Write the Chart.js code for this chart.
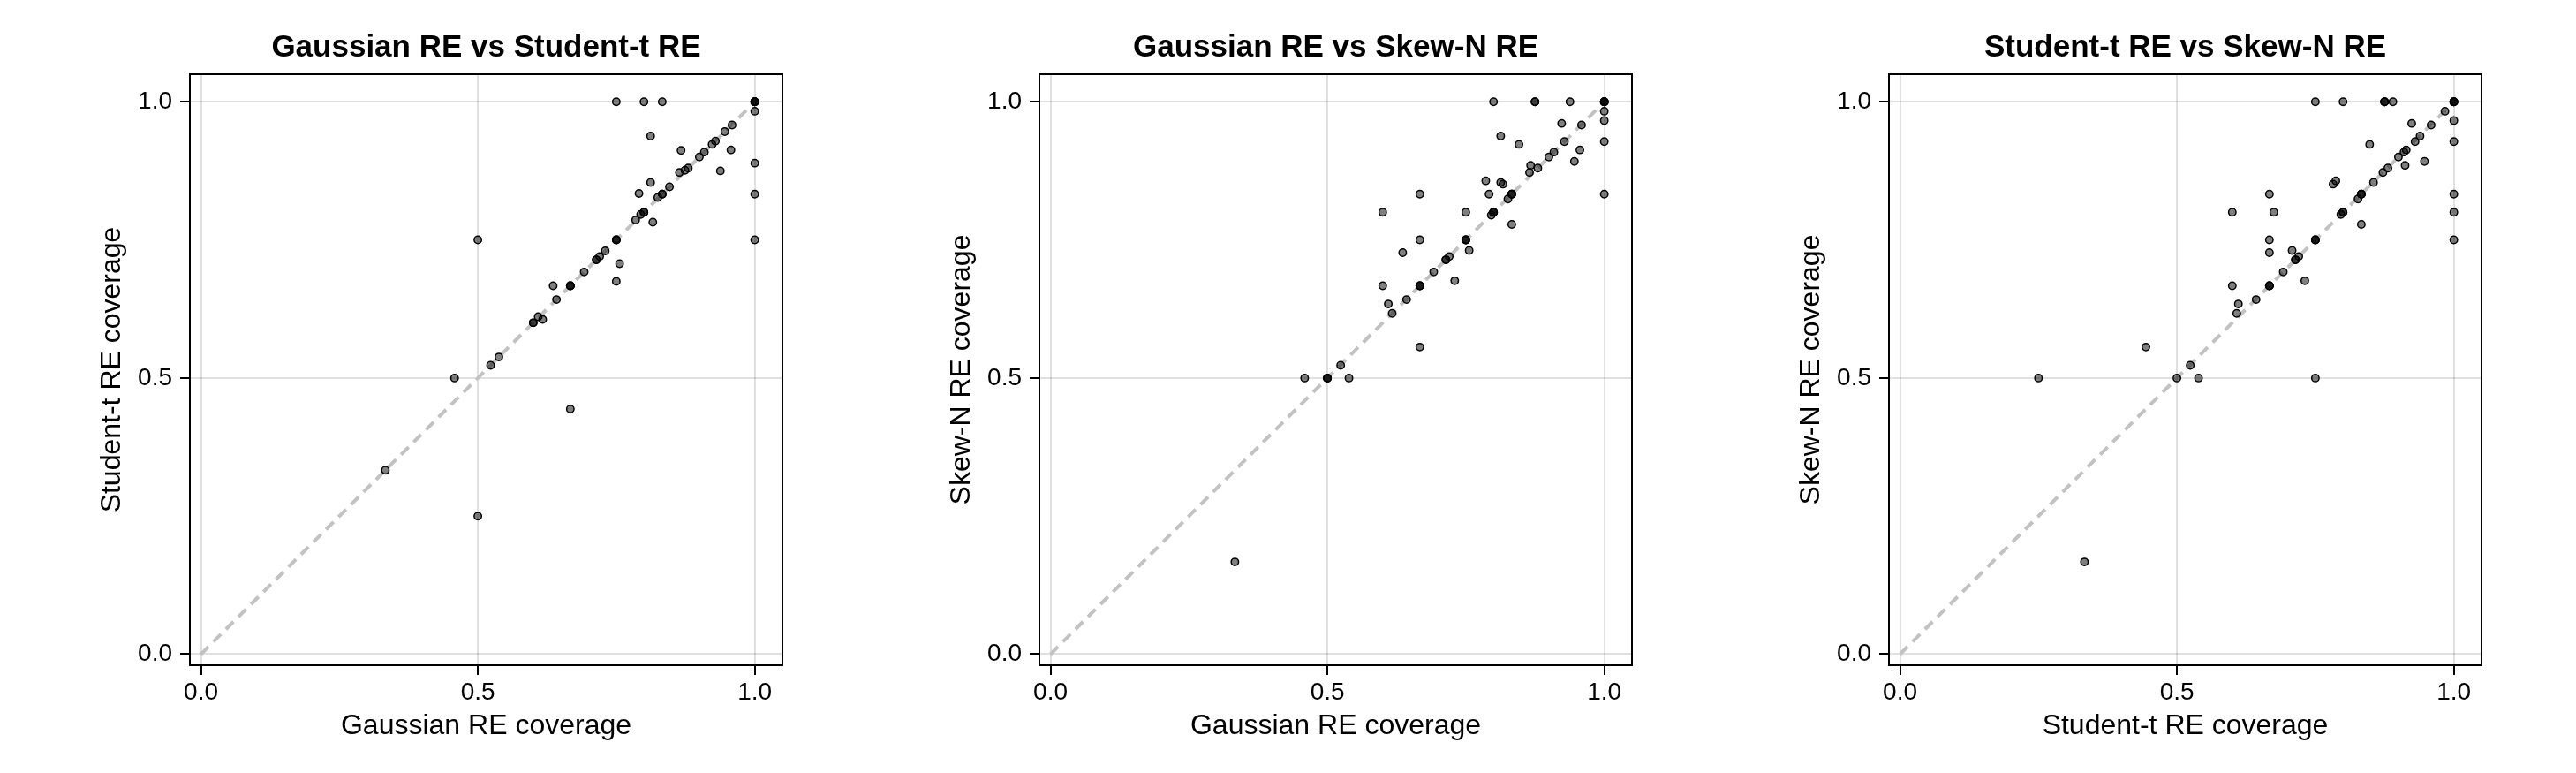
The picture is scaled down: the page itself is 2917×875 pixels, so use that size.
<!DOCTYPE html>
<html>
<head>
<meta charset="utf-8">
<script src="https://cdn.jsdelivr.net/npm/chart.js@4.4.1/dist/chart.umd.min.js"></script>
<style>
  body { margin: 0; background: #fff; }
  #wrap { position: relative; width: 2917px; height: 875px; }
  canvas { position: absolute; top: 0; }
</style>
</head>
<body>
<div id="wrap">
  <canvas id="c1" width="962" height="875" style="left:0px"></canvas>
  <canvas id="c2" width="962" height="875" style="left:962px"></canvas>
  <canvas id="c3" width="962" height="875" style="left:1924px"></canvas>
</div>
<script>
// tick values for both axes
const tickVals = [0, 0.5, 1];

// panel 1: Gaussian RE (x) vs Student-t RE (y)
const gaussX1 = [0.75, 0.8, 0.833, 1, 1, 1, 1, 1, 0.812, 0.867, 0.957, 0.946, 0.959, 0.929, 0.923, 0.909, 0.9, 1, 0.938, 0.864, 0.874, 0.88, 0.812, 0.846, 0.791, 0.833, 0.833, 0.825, 1, 0.8, 0.8, 0.794, 0.785, 0.816, 0.75, 0.75, 0.75, 0.5, 1, 0.73, 0.72, 0.714, 0.714, 0.756, 0.75, 0.692, 0.667, 0.667, 0.667, 0.636, 0.642, 0.609, 0.617, 0.6, 0.6, 0.538, 0.523, 0.458, 0.667, 0.333, 0.5];
const studentY1 = [1, 1, 1, 1, 1, 1, 1, 0.983, 0.938, 0.912, 0.913, 0.946, 0.958, 0.929, 0.923, 0.909, 0.9, 0.889, 0.875, 0.872, 0.876, 0.88, 0.854, 0.846, 0.834, 0.833, 0.833, 0.827, 0.833, 0.8, 0.8, 0.796, 0.786, 0.782, 0.75, 0.75, 0.75, 0.75, 0.75, 0.73, 0.72, 0.714, 0.714, 0.707, 0.675, 0.692, 0.667, 0.667, 0.667, 0.667, 0.642, 0.611, 0.606, 0.6, 0.6, 0.538, 0.523, 0.5, 0.444, 0.333, 0.25];

// panel 2: Gaussian RE (x) vs Skew-N RE (y)
const gaussX2 = [0.8, 0.875, 0.875, 0.938, 1, 1, 1, 1, 1, 1, 1, 1, 0.923, 0.959, 0.813, 0.846, 0.928, 0.956, 0.909, 0.9, 0.946, 0.867, 0.88, 0.865, 0.786, 0.813, 0.817, 0.792, 0.833, 0.833, 0.833, 0.826, 0.667, 0.6, 0.75, 0.8, 0.8, 0.8, 0.796, 0.833, 0.667, 0.75, 0.75, 0.75, 0.756, 0.636, 0.72, 0.714, 0.714, 0.692, 0.73, 0.6, 0.667, 0.667, 0.667, 0.643, 0.61, 0.617, 0.667, 0.524, 0.459, 0.5, 0.5, 0.5, 0.539, 0.333];
const skewY2 = [1, 1, 1, 1, 1, 1, 1, 1, 0.983, 0.966, 0.928, 0.833, 0.961, 0.958, 0.938, 0.923, 0.928, 0.913, 0.909, 0.9, 0.892, 0.885, 0.88, 0.872, 0.857, 0.854, 0.851, 0.833, 0.833, 0.833, 0.833, 0.824, 0.833, 0.8, 0.8, 0.8, 0.8, 0.8, 0.795, 0.778, 0.75, 0.75, 0.75, 0.75, 0.731, 0.727, 0.72, 0.714, 0.714, 0.692, 0.676, 0.667, 0.667, 0.667, 0.667, 0.642, 0.634, 0.617, 0.556, 0.523, 0.5, 0.5, 0.5, 0.5, 0.5, 0.167];

// panel 3: Student-t RE (x) vs Skew-N RE (y)
const studentX3 = [0.75, 0.8, 0.875, 0.875, 0.875, 0.89, 1, 1, 1, 1, 0.984, 1, 1, 1, 1, 1, 0.924, 0.959, 0.939, 0.93, 0.848, 0.914, 0.91, 0.9, 0.947, 0.912, 0.881, 0.872, 0.855, 0.787, 0.782, 0.833, 0.833, 0.833, 0.827, 0.667, 0.6, 0.675, 0.8, 0.8, 0.796, 0.833, 0.667, 0.75, 0.75, 0.75, 0.667, 0.708, 0.72, 0.714, 0.714, 0.692, 0.731, 0.6, 0.667, 0.667, 0.667, 0.643, 0.611, 0.608, 0.444, 0.524, 0.25, 0.5, 0.539, 0.75, 0.333];
const skewY3 = [1, 1, 1, 1, 1, 1, 1, 1, 1, 1, 0.983, 0.966, 0.928, 0.833, 0.8, 0.75, 0.961, 0.958, 0.938, 0.928, 0.923, 0.913, 0.909, 0.9, 0.892, 0.885, 0.88, 0.872, 0.854, 0.857, 0.851, 0.833, 0.833, 0.833, 0.824, 0.833, 0.8, 0.8, 0.8, 0.8, 0.796, 0.778, 0.75, 0.75, 0.75, 0.75, 0.727, 0.731, 0.72, 0.714, 0.714, 0.692, 0.676, 0.667, 0.667, 0.667, 0.667, 0.642, 0.634, 0.617, 0.556, 0.523, 0.5, 0.5, 0.5, 0.5, 0.167];

const panels = [
  { id: 'c1', title: 'Gaussian RE vs Student-t RE', xLabel: 'Gaussian RE coverage', yLabel: 'Student-t RE coverage', xs: gaussX1, ys: studentY1 },
  { id: 'c2', title: 'Gaussian RE vs Skew-N RE', xLabel: 'Gaussian RE coverage', yLabel: 'Skew-N RE coverage', xs: gaussX2, ys: skewY2 },
  { id: 'c3', title: 'Student-t RE vs Skew-N RE', xLabel: 'Student-t RE coverage', yLabel: 'Skew-N RE coverage', xs: studentX3, ys: skewY3 }
];

const FONT = "'Liberation Sans', Arial, Helvetica, sans-serif";

// black box around the plot area
const frame = {
  id: 'frame',
  afterDraw(chart) {
    const { ctx, chartArea: a } = chart;
    ctx.save();
    ctx.strokeStyle = '#000';
    ctx.lineWidth = 2;
    ctx.strokeRect(a.left, a.top, a.right - a.left, a.bottom - a.top);
    ctx.restore();
  }
};

function axis(label, isX) {
  return {
    type: 'linear',
    min: -0.02,
    max: 1.05,
    afterBuildTicks: s => { s.ticks = tickVals.map(v => ({ value: v })); },
    afterFit: s => { if (isX) s.height = 122; else s.width = 215; },
    border: { display: false },
    grid: { color: 'rgba(0,0,0,0.12)', lineWidth: 2, tickColor: '#000', tickLength: 11, tickWidth: 2 },
    ticks: { color: '#000', font: { family: FONT, size: 28 }, padding: isX ? 3 : 9, callback: v => v.toFixed(1) },
    title: {
      display: true, text: label, color: '#000',
      font: { family: FONT, size: 32 },
      padding: isX ? { top: 0, bottom: 34 } : { top: 108, bottom: 0 }
    }
  };
}

panels.forEach(p => {
  const pts = p.xs.map((x, i) => ({ x: x, y: p.ys[i] }));
  new Chart(document.getElementById(p.id), {
    type: 'scatter',
    data: {
      datasets: [
        {
          type: 'line',
          data: [{ x: 0, y: 0 }, { x: 1, y: 1 }],
          borderColor: '#c2c2c2',
          borderWidth: 4,
          borderDash: [12, 8],
          pointRadius: 0,
          order: 2
        },
        {
          data: pts,
          backgroundColor: 'rgba(0,0,0,0.5)',
          borderColor: '#000',
          borderWidth: 1.5,
          pointRadius: 4.2,
          order: 1
        }
      ]
    },
    options: {
      responsive: false,
      animation: false,
      layout: { padding: { left: 0, right: 76, top: 0, bottom: 0 } },
      plugins: {
        legend: { display: false },
        tooltip: { enabled: false },
        title: {
          display: true, text: p.title, color: '#000', fullSize: false,
          font: { family: FONT, size: 35, weight: 'bold' },
          padding: { top: 33, bottom: 9 }
        }
      },
      scales: { x: axis(p.xLabel, true), y: axis(p.yLabel, false) }
    },
    plugins: [frame]
  });
});
</script>
</body>
</html>
